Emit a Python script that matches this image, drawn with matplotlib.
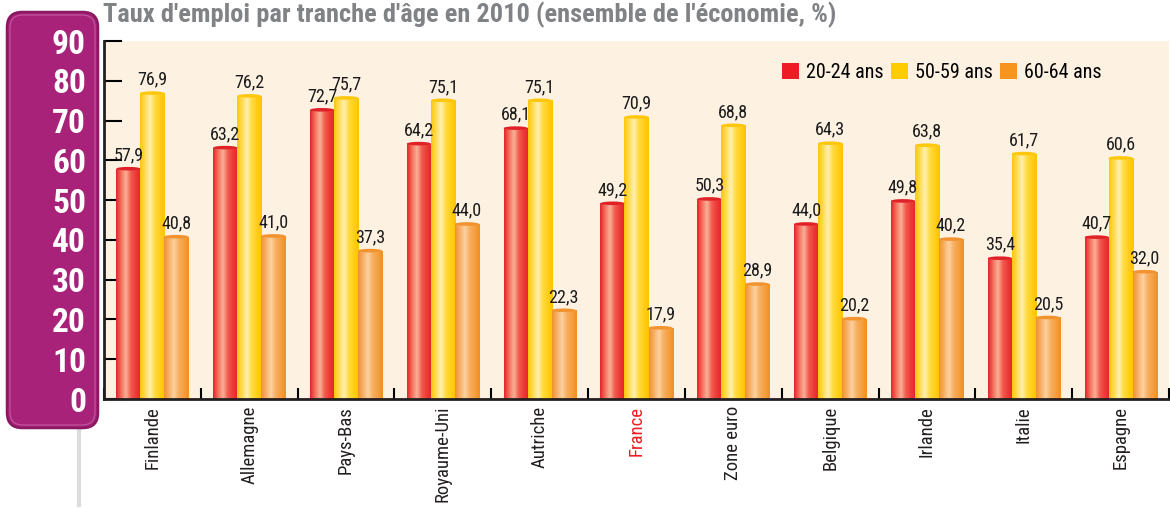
import numpy as np
import matplotlib
matplotlib.use("Agg")
import matplotlib.pyplot as plt
from matplotlib.colors import LinearSegmentedColormap
from matplotlib.patches import FancyBboxPatch, Ellipse, Patch

plt.rcParams['font.family'] = ['Roboto Condensed', 'PT Sans Narrow', 'Open Sans Condensed',
                               'Archivo Narrow', 'DejaVu Sans']

# ---- data ----
pays = ['Finlande', 'Allemagne', 'Pays-Bas', 'Royaume-Uni', 'Autriche', 'France',
        'Zone euro', 'Belgique', 'Irlande', 'Italie', 'Espagne']
age_20_24 = [57.9, 63.2, 72.7, 64.2, 68.1, 49.2, 50.3, 44.0, 49.8, 35.4, 40.7]
age_50_59 = [76.9, 76.2, 75.7, 75.1, 75.1, 70.9, 68.8, 64.3, 63.8, 61.7, 60.6]
age_60_64 = [40.8, 41.0, 37.3, 44.0, 22.3, 17.9, 28.9, 20.2, 40.2, 20.5, 32.0]
series_labels = ['20-24 ans', '50-59 ans', '60-64 ans']
yticks = [0, 10, 20, 30, 40, 50, 60, 70, 80, 90]

# cylinder-like shading for each series (left edge -> highlight -> right edge)
shades = [
    ['#e3252b', '#f4705e', '#f9b096', '#f25a4e', '#ec3a38', '#e3232a'],
    ['#ffc60a', '#ffdc55', '#fff0b0', '#ffdb40', '#ffcf1a', '#ffc300'],
    ['#f29130', '#f7b06a', '#fcd1a0', '#f7ae60', '#f5a040', '#f18f22'],
]
legend_colors = ['#ed1c24', '#ffcc00', '#f7941d']
cap_colors = ['#e02128', '#fdc70e', '#f29330']

fig = plt.figure(figsize=(11.7, 5.08), dpi=100)
fig.patch.set_facecolor('white')

# left shadow strip
fig.add_artist(plt.Line2D([79 / 1170, 79 / 1170], [0.005, 1 - 428 / 508],
                          color='#dcdcdc', lw=3, transform=fig.transFigure, zorder=-2))

# purple panel behind y tick labels
panel = FancyBboxPatch((7 / 1170, 1 - 428 / 508), 91 / 1170, 416 / 508,
                       boxstyle='round,pad=0,rounding_size=0.013',
                       transform=fig.transFigure, facecolor='#a8227a',
                       edgecolor='#8a1862', lw=1.8, mutation_aspect=2.3, zorder=-1)
fig.add_artist(panel)
inner = FancyBboxPatch((10 / 1170, 1 - 425 / 508), 85 / 1170, 410 / 508,
                       boxstyle='round,pad=0,rounding_size=0.011',
                       transform=fig.transFigure, facecolor='none',
                       edgecolor='#c25a9c', lw=0.8, mutation_aspect=2.3, zorder=-1)
fig.add_artist(inner)

ax = fig.add_axes([104 / 1170, 1 - 399 / 508, 1065 / 1170, 358 / 508])
ax.set_facecolor('#fdf1e2')

x = np.arange(len(pays))
w = 0.248
series = [age_20_24, age_50_59, age_60_64]
for i, vals in enumerate(series):
    cmap = LinearSegmentedColormap.from_list('s%d' % i, shades[i])
    grad = np.linspace(0, 1, 64).reshape(1, -1)
    bars = ax.bar(x + (i - 1) * w, vals, w, color='none', lw=0)
    for b, v in zip(bars, vals):
        x0 = b.get_x()
        im = ax.imshow(grad, cmap=cmap, aspect='auto',
                       extent=[x0, x0 + w, 0, v], zorder=2)
        im.set_clip_path(b)
        ax.add_patch(Ellipse((x0 + w / 2, v), w, 0.9, facecolor=cap_colors[i],
                             edgecolor='none', zorder=3))
        ax.text(x0 + w / 2, v + 1.1, ('%.1f' % v).replace('.', ','),
                ha='center', va='bottom', fontsize=13, color='#1a1a1a', zorder=4)

ax.set_xlim(-0.5, len(pays) - 0.5)
ax.set_ylim(0, 90)

# y ticks
ax.set_yticks(yticks)
ax.set_yticklabels([str(t) for t in yticks], fontsize=24, fontweight='bold',
                   color='white')
ax.tick_params(axis='y', direction='in', length=13, width=1.5, pad=13)

# x ticks at group boundaries, labels at centres
ax.set_xticks(np.arange(len(pays) + 1) - 0.5)
ax.set_xticklabels([])
ax.tick_params(axis='x', which='major', direction='in', length=8, width=1.5)
ax.set_xticks(x, minor=True)
ax.set_xticklabels(pays, minor=True, rotation=90, fontsize=13.5, color='#231f20')
ax.tick_params(axis='x', which='minor', length=0, pad=5)
for lbl in ax.get_xticklabels(minor=True):
    if lbl.get_text() == 'France':
        lbl.set_color('#ed1c24')

for s in ['top', 'right']:
    ax.spines[s].set_visible(False)
for s in ['left', 'bottom']:
    ax.spines[s].set_linewidth(2)
    ax.spines[s].set_color('#231f20')

handles = [Patch(facecolor=c, edgecolor='none') for c in legend_colors]
ax.legend(handles, series_labels, loc='center right', ncol=3, frameon=False,
          fontsize=14.5, handlelength=0.85, handleheight=0.85, handletextpad=0.35,
          columnspacing=0.35, borderpad=0, borderaxespad=0,
          bbox_to_anchor=(0.937, 0.913))

fig.text(103 / 1170, 1 - 15 / 508, "Taux d'emploi par tranche d'âge en 2010 (ensemble de l'économie, %)",
         fontsize=19, fontweight='bold', color='#808285', ha='left', va='center')

fig.savefig('out.png', dpi=100)
